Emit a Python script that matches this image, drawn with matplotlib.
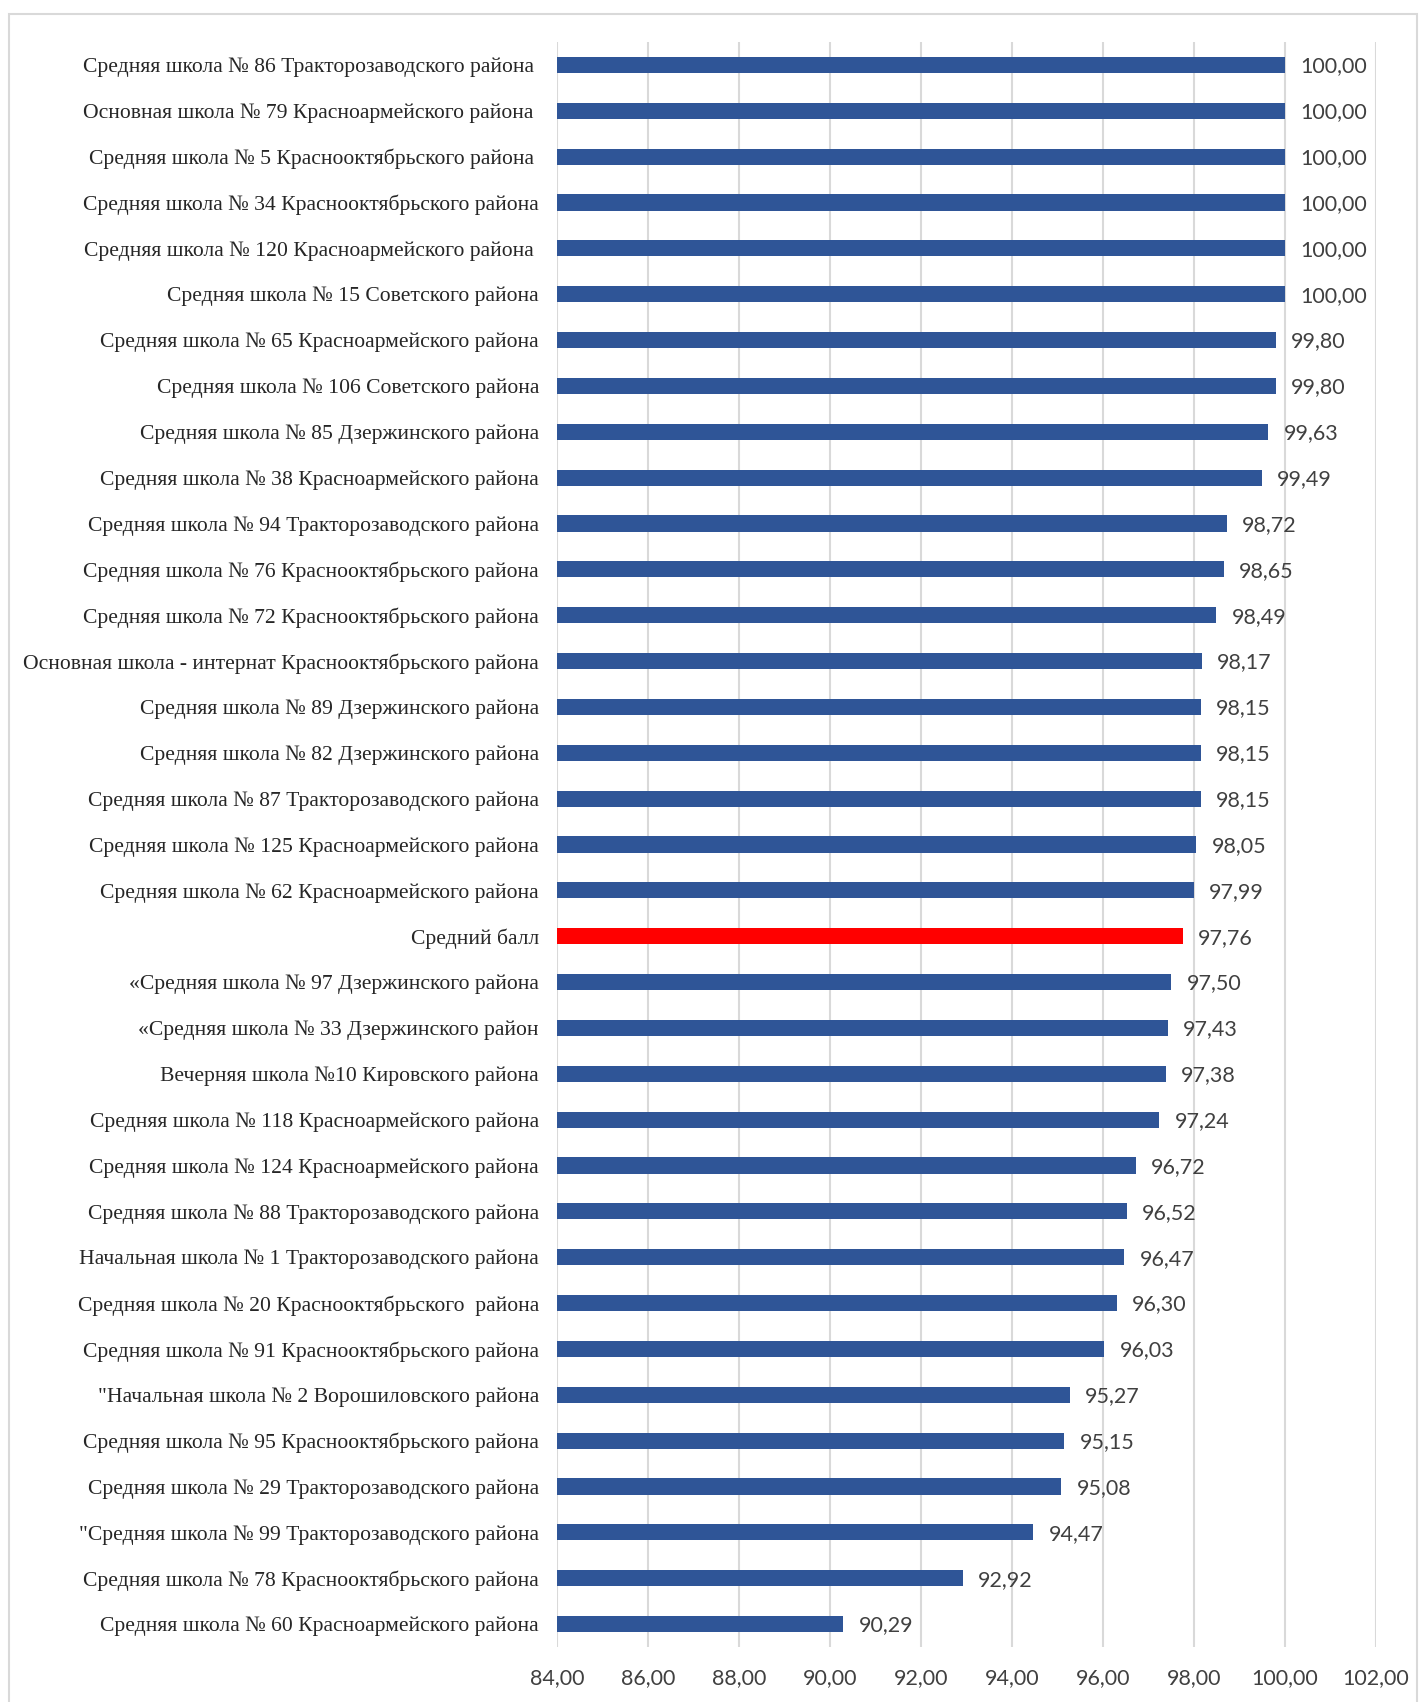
import matplotlib.pyplot as plt
from matplotlib.patches import Rectangle
import numpy as np

##### Data #####
schools = [
    'Средняя школа № 86 Тракторозаводского района ',
    'Основная школа № 79 Красноармейского района ',
    'Средняя школа № 5 Краснооктябрьского района ',
    'Средняя школа № 34 Краснооктябрьского района',
    'Средняя школа № 120 Красноармейского района ',
    'Средняя школа № 15 Советского района',
    'Средняя школа № 65 Красноармейского района',
    'Средняя школа № 106 Советского района',
    'Средняя школа № 85 Дзержинского района',
    'Средняя школа № 38 Красноармейского района',
    'Средняя школа № 94 Тракторозаводского района',
    'Средняя школа № 76 Краснооктябрьского района',
    'Средняя школа № 72 Краснооктябрьского района',
    'Основная школа - интернат Краснооктябрьского района',
    'Средняя школа № 89 Дзержинского района',
    'Средняя школа № 82 Дзержинского района',
    'Средняя школа № 87 Тракторозаводского района',
    'Средняя школа № 125 Красноармейского района',
    'Средняя школа № 62 Красноармейского района',
    'Средний балл',
    '«Средняя школа № 97 Дзержинского района',
    '«Средняя школа № 33 Дзержинского район',
    'Вечерняя школа №10 Кировского района',
    'Средняя школа № 118 Красноармейского района',
    'Средняя школа № 124 Красноармейского района',
    'Средняя школа № 88 Тракторозаводского района',
    'Начальная школа № 1 Тракторозаводского района',
    'Средняя школа № 20 Краснооктябрьского  района',
    'Средняя школа № 91 Краснооктябрьского района',
    '"Начальная школа № 2 Ворошиловского района',
    'Средняя школа № 95 Краснооктябрьского района',
    'Средняя школа № 29 Тракторозаводского района',
    '"Средняя школа № 99 Тракторозаводского района',
    'Средняя школа № 78 Краснооктябрьского района',
    'Средняя школа № 60 Красноармейского района',
]
scores = [100.00, 100.00, 100.00, 100.00, 100.00, 100.00, 99.80, 99.80, 99.63, 99.49,
          98.72, 98.65, 98.49, 98.17, 98.15, 98.15, 98.15, 98.05, 97.99, 97.76,
          97.50, 97.43, 97.38, 97.24, 96.72, 96.52, 96.47, 96.30, 96.03, 95.27,
          95.15, 95.08, 94.47, 92.92, 90.29]
highlight = 'Средний балл'
x_ticks = [84, 86, 88, 90, 92, 94, 96, 98, 100, 102]

##### Style #####
bar_blue = '#2F5597'
bar_red = '#FF0000'
grid_grey = '#D9D9D9'
W, H = 1428, 1702

fig = plt.figure(figsize=(W / 100, H / 100), dpi=100)
# outer chart frame
fig.patches.append(Rectangle((9 / W, -0.05), (1417 - 9) / W, 1.05 - 14 / H,
                             transform=fig.transFigure, fill=False,
                             edgecolor=grid_grey, linewidth=1.5))

ax = fig.add_axes([557 / W, 1 - 1647 / H, (1376 - 557) / W, (1647 - 42) / H])

y = np.arange(len(schools))
colors = [bar_red if s == highlight else bar_blue for s in schools]
ax.barh(y, [v - 84 for v in scores], left=84, height=0.35, color=colors, zorder=3)

# value labels
for yi, v in zip(y, scores):
    ax.annotate(f'{v:.2f}'.replace('.', ','), (v, yi), xytext=(11, -1),
                textcoords='offset points', va='center', ha='left',
                fontsize=15.5, color='#404040', family='Lato')

ax.set_xlim(84, 102)
ax.set_ylim(len(schools) - 0.5, -0.5)
ax.set_xticks(x_ticks)
ax.set_xticklabels([f'{t:.2f}'.replace('.', ',') for t in x_ticks],
                   fontsize=15.5, color='#404040', family='Lato')
ax.set_yticks(y)
ax.set_yticklabels(schools, fontsize=15.6, color='#262626', family='Liberation Serif')
ax.tick_params(axis='both', length=0)
ax.tick_params(axis='y', pad=13)
ax.tick_params(axis='x', pad=15)
ax.grid(axis='x', color=grid_grey, linewidth=1.5, zorder=0)
for sp in ax.spines.values():
    sp.set_visible(False)

plt.savefig('out.png', dpi=100)
plt.close()
